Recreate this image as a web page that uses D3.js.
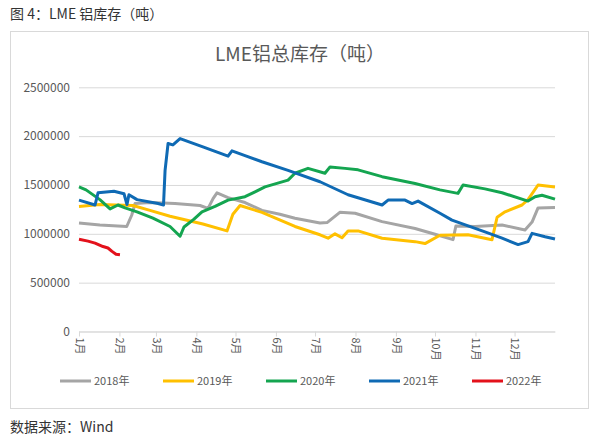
<!DOCTYPE html>
<html>
<head>
<meta charset="utf-8">
<script src="https://cdn.jsdelivr.net/npm/d3@7"></script>
<style>
  body { margin: 0; background: #fff; }
  svg text { font-family: "Noto Sans CJK SC", "Noto Sans", sans-serif; }
</style>
</head>
<body>
<svg id="chart" width="600" height="447"></svg>
<script>
// day of year -> tonnes
const s2018 = [[0,1110000],[16,1090000],[36.6,1075000],[40.4,1190000],[43,1310000],[54.4,1320000],[73.6,1310000],[92.8,1290000],[99,1260000],[102.8,1360000],[105.8,1420000],[114.3,1370000],[127.3,1320000],[140.3,1240000],[154,1200000],[165.6,1160000],[184.8,1110000],[190.2,1115000],[200,1220000],[211.7,1210000],[232.4,1125000],[257.7,1055000],[273,995000],[286.8,940000],[289,1080000],[303.7,1075000],[324.4,1090000],[342,1040000],[347.4,1120000],[352,1265000],[365,1270000]];
const s2019 = [[0,1280000],[16,1300000],[41.4,1290000],[54.4,1240000],[69.8,1180000],[95,1100000],[113.5,1030000],[118,1200000],[123.5,1290000],[140.3,1220000],[165.6,1075000],[184.8,990000],[191,955000],[196.3,1000000],[201.7,960000],[206.3,1030000],[214,1030000],[232.4,955000],[257.7,920000],[265.3,900000],[276.8,985000],[298.3,990000],[316.7,940000],[320.6,1170000],[326.7,1225000],[339.7,1295000],[344.3,1350000],[352,1500000],[365,1480000]];
const s2020 = [[0,1480000],[5.4,1450000],[16,1350000],[23.8,1255000],[29.9,1295000],[35.3,1265000],[44.5,1225000],[56.7,1160000],[69.8,1075000],[77.5,975000],[80.5,1070000],[88.2,1150000],[94.3,1225000],[104.3,1280000],[114.3,1345000],[127.3,1380000],[135,1430000],[142.6,1480000],[160.3,1550000],[165.6,1620000],[175.6,1670000],[188.6,1620000],[192.5,1685000],[204,1670000],[214,1655000],[232.4,1585000],[257.7,1515000],[276.8,1450000],[290.6,1414000],[294.5,1500000],[311.3,1460000],[324.4,1420000],[344.3,1335000],[349.7,1380000],[355,1395000],[365,1355000]];
const s2021 = [[0,1345000],[12.3,1295000],[14.6,1420000],[26.8,1435000],[34.5,1410000],[36.8,1300000],[38.3,1400000],[44.5,1350000],[60.6,1310000],[64.8,1295000],[66,1650000],[68.3,1925000],[72,1910000],[77.5,1975000],[95,1890000],[114.3,1795000],[117.3,1850000],[127.3,1800000],[140.3,1738000],[160.3,1650000],[184.8,1533000],[206.3,1400000],[232.4,1295000],[237,1345000],[250,1345000],[255.4,1310000],[260,1335000],[276.8,1210000],[286,1140000],[311.3,1020000],[324.4,955000],[336.7,890000],[344.3,920000],[347.4,1005000],[357.4,970000],[365,947000]];
const s2022 = [[0,945000],[6.9,925000],[12.3,905000],[18.4,870000],[22.2,855000],[25.3,820000],[28.4,790000],[31.4,785000]];

const seriesNames = ['2018年', '2019年', '2020年', '2021年', '2022年'];
const seriesColors = ['#a5a5a5', '#ffc000', '#14a550', '#0f6ab4', '#e3111b'];
const seriesData = [s2018, s2019, s2020, s2021, s2022];

const monthStarts = [0, 31, 59, 90, 120, 151, 181, 212, 243, 273, 304, 334];
const monthLabels = ['1月','2月','3月','4月','5月','6月','7月','8月','9月','10月','11月','12月'];
const yTicks = [0, 500000, 1000000, 1500000, 2000000, 2500000];

const svg = d3.select('#chart');

svg.append('text')
    .attr('x', 10)
    .attr('y', 19)
    .style('font-size', '14px')
    .style('fill', '#333')
    .text('图 4：LME 铝库存（吨）');

svg.append('rect')
    .attr('x', 10.5)
    .attr('y', 31.5)
    .attr('width', 578)
    .attr('height', 377)
    .attr('fill', '#fff')
    .attr('stroke', '#d9d9d9');

svg.append('text')
    .attr('x', 300)
    .attr('y', 61)
    .attr('text-anchor', 'middle')
    .style('font-size', '19px')
    .style('fill', '#595959')
    .text('LME铝总库存（吨）');

svg.append('text')
    .attr('x', 10)
    .attr('y', 432)
    .style('font-size', '14px')
    .style('fill', '#333')
    .text('数据来源：Wind');

const xScale = d3.scaleLinear().domain([0, 365]).range([79, 555]);
const yScale = d3.scaleLinear().domain([0, 2500000]).range([331.5, 87.3]);

// horizontal grid
svg.append('g')
    .attr('transform', 'translate(79,0)')
    .call(d3.axisLeft(yScale).tickValues(yTicks).tickSize(-476).tickFormat(''))
    .call(g => g.select('.domain').remove())
    .selectAll('line')
    .attr('stroke', '#d9d9d9');

// y labels
svg.append('g')
    .attr('transform', 'translate(79,0)')
    .call(d3.axisLeft(yScale).tickValues(yTicks).tickSize(0).tickPadding(9).tickFormat(d3.format('d')))
    .call(g => g.select('.domain').remove())
    .selectAll('text')
    .style('font-size', '12px')
    .style('fill', '#595959');

// x axis
const xAxis = svg.append('g')
    .attr('transform', `translate(0,${yScale(0)})`)
    .call(d3.axisBottom(xScale).tickValues(monthStarts).tickSize(5).tickSizeOuter(0)
        .tickFormat((d, i) => monthLabels[i]));
xAxis.select('.domain').attr('stroke', '#d9d9d9');
xAxis.selectAll('line').attr('stroke', '#d9d9d9');
xAxis.selectAll('text')
    .attr('transform', 'rotate(90)')
    .attr('x', 6)
    .attr('y', 0)
    .attr('dy', '0.35em')
    .style('text-anchor', 'start')
    .style('font-size', '11px')
    .style('fill', '#595959');

const line = d3.line()
    .x(d => xScale(d[0]))
    .y(d => yScale(d[1]));

seriesData.forEach((s, i) => {
    svg.append('path')
        .datum(s)
        .attr('fill', 'none')
        .attr('stroke', seriesColors[i])
        .attr('stroke-width', 3)
        .attr('stroke-linejoin', 'round')
        .attr('d', line);
});

// legend
const legend = svg.append('g').attr('transform', 'translate(60,381)');
const items = legend.selectAll('g')
    .data(seriesNames)
    .enter()
    .append('g')
    .attr('transform', (d, i) => `translate(${i * 103},0)`);
items.append('line')
    .attr('x1', 0).attr('x2', 31)
    .attr('y1', 0).attr('y2', 0)
    .attr('stroke', (d, i) => seriesColors[i])
    .attr('stroke-width', 3);
items.append('text')
    .attr('x', 34)
    .attr('y', 0)
    .attr('dy', '0.35em')
    .style('font-size', '11px')
    .style('fill', '#595959')
    .text(d => d);
</script>
</body>
</html>
